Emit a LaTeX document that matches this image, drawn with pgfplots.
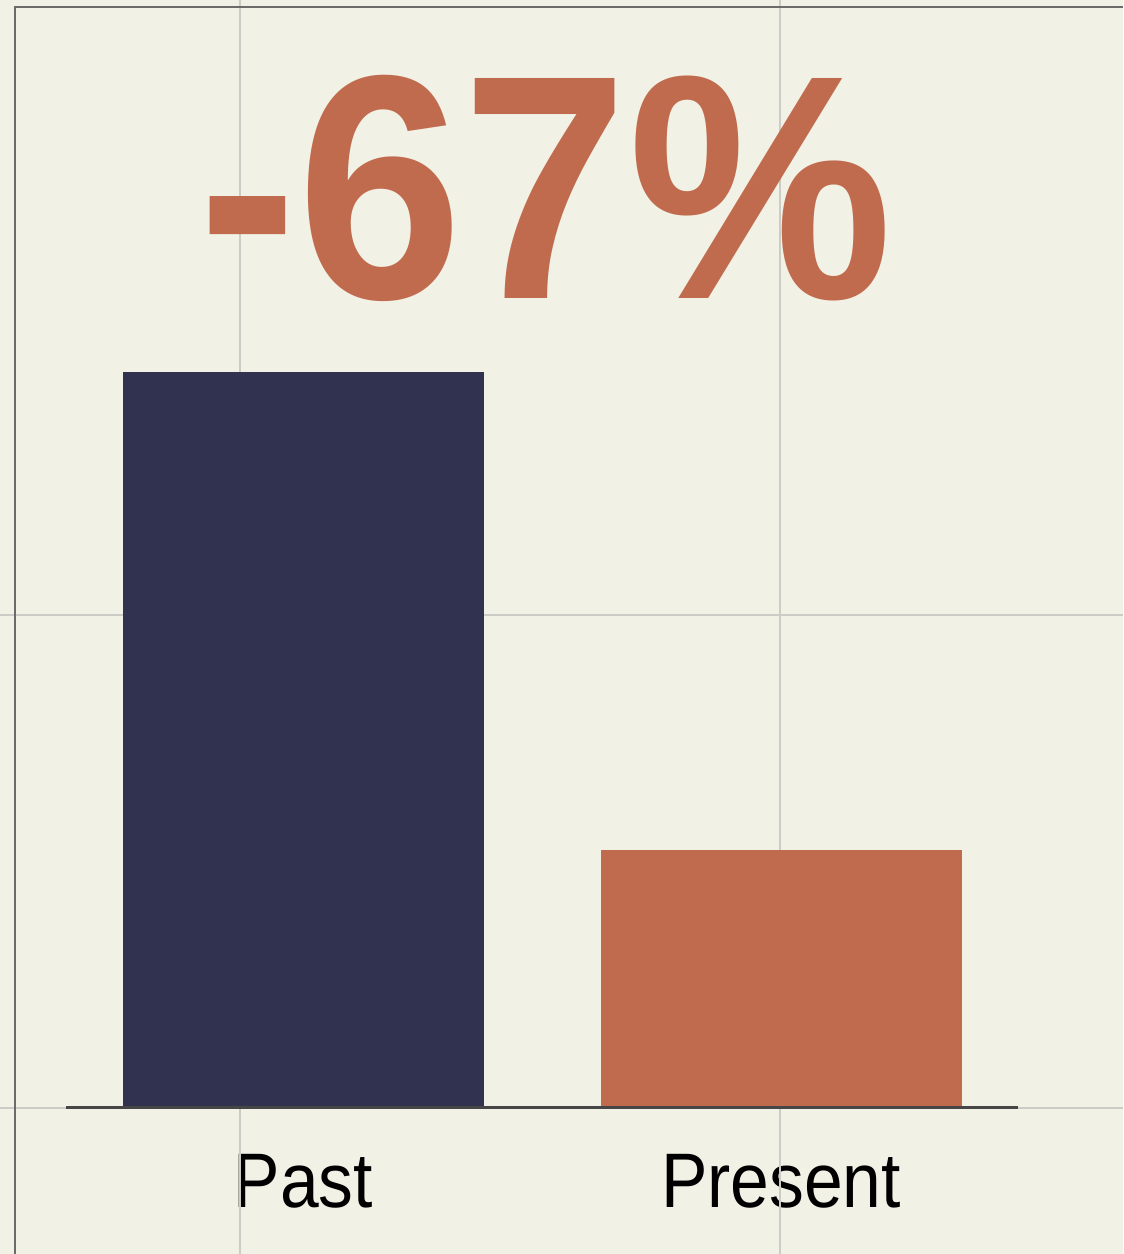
\documentclass[border=0pt]{standalone}
\usepackage{pgfplots}
\pgfplotsset{compat=1.18}
\usepackage{fontspec}
\setmainfont{Liberation Sans}

\definecolor{bgc}{RGB}{242,241,230}
\definecolor{navy}{RGB}{49,50,80}
\definecolor{rust}{RGB}{192,107,77}
\definecolor{gridc}{RGB}{204,204,198}
\definecolor{rulec}{RGB}{70,70,70}

\begin{document}
\begin{tikzpicture}
\begin{axis}[
    scale only axis,
    width=11.23cm, height=12.54cm,
    xmin=-0.6356, xmax=1.7162,
    ymin=-19.84, ymax=150.54,
    axis background/.style={fill=bgc},
    axis line style={draw=none},
    xtick={0,1},
    xticklabels={\scalebox{0.9}[1]{Past},\scalebox{0.9}[1]{Present}},
    xticklabel style={anchor=base, yshift=4.6mm, font=\fontsize{22}{26}\selectfont, text=black},
    ytick=\empty,
    extra x ticks={-0.133,0.998},
    extra x tick labels={},
    extra y ticks={0,67},
    extra y tick labels={},
    extra tick style={grid=major, major grid style={gridc, line width=0.55pt}},
    major tick length=0pt,
    bar width=0.756,
]
\addplot[ybar, bar shift=0pt, fill=navy, draw=none] coordinates {(0,100)};
\addplot[ybar, bar shift=0pt, fill=rust, draw=none] coordinates {(1,35)};
\draw[rulec, line width=0.85pt] (axis cs:-0.497,0) -- (axis cs:1.496,0);
\draw[rulec!80, line width=0.7pt] (axis cs:-0.604,-19.84) -- (axis cs:-0.604,149.6) -- (axis cs:1.7162,149.6);
\node[anchor=base, text=rust, font=\fontsize{91}{94}\selectfont\bfseries, inner sep=0pt] at (axis cs:0.507,110) {\scalebox{0.93}[1]{-67\%}};
\end{axis}
\pgfresetboundingbox
\path (current axis.south west) rectangle (current axis.north east);
\end{tikzpicture}
\end{document}
